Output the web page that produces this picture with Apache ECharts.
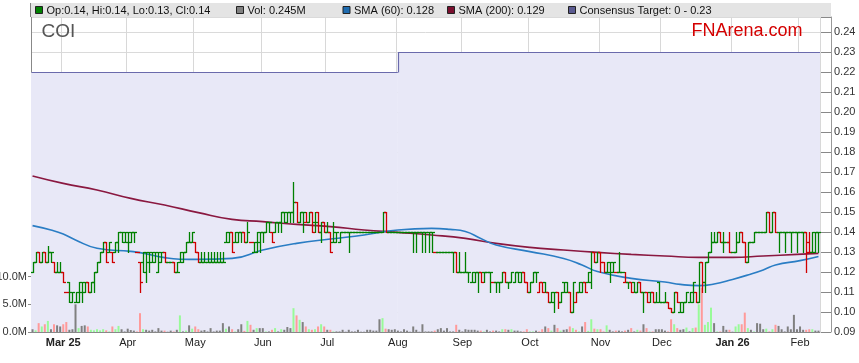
<!DOCTYPE html>
<html><head><meta charset="utf-8">
<script src="https://cdn.jsdelivr.net/npm/echarts@6/dist/echarts.min.js"></script>
<style>html,body{margin:0;padding:0;background:#fff}#c{width:859px;height:363px}</style>
</head><body><div id="c"></div>
<script>
// ---------- data ----------
const startDate = '2025-02-17';   // first weekday shown
const dayCount = 257;              // weekdays on the axis (to 2026-02-10)
const monthNames = ['Jan','Feb','Mar','Apr','May','Jun','Jul','Aug','Sep','Oct','Nov','Dec'];

// [open, high, low, close] per weekday
const priceBars = [
[.120,.125,.120,.125],[.125,.130,.125,.130],[.130,.130,.125,.125],[.125,.130,.125,.130],[.130,.130,.125,.125],
[.125,.133,.125,.130],[.130,.130,.125,.130],[.125,.125,.120,.120],[.120,.125,.120,.120],[.120,.125,.120,.120],
[.120,.120,.115,.115],[.110,.110,.110,.110],[.115,.115,.105,.110],[.105,.110,.105,.110],[.105,.110,.105,.110],
[.105,.115,.105,.115],[.110,.115,.105,.115],[.110,.115,.110,.115],[.115,.115,.110,.110],[.110,.115,.110,.115],
[.115,.120,.110,.120],[.120,.125,.120,.125],[.125,.130,.125,.130],[.130,.135,.130,.135],[.135,.135,.125,.125],
[.130,.135,.130,.135],[.130,.130,.125,.125],[.130,.135,.130,.135],[.135,.140,.130,.140],[.140,.140,.135,.140],
[.135,.140,.135,.140],[.135,.140,.130,.140],[.135,.140,.135,.140],[.140,.140,.135,.140],[.130,.130,.130,.130],
[.125,.125,.110,.115],[.125,.130,.120,.130],[.120,.130,.115,.130],[.125,.130,.120,.130],[.125,.130,.125,.130],
[.125,.130,.125,.130],[.120,.130,.120,.130],[.125,.130,.125,.130],[.130,.130,.125,.125],[.125,.125,.125,.125],
[.125,.125,.125,.125],[.125,.125,.120,.120],[.120,.125,.120,.120],[.125,.130,.125,.130],[.125,.130,.125,.130],
[.130,.135,.130,.135],[.135,.140,.135,.135],[.135,.140,.135,.140],[.135,.135,.130,.130],[.130,.130,.125,.125],
[.125,.130,.125,.125],[.125,.130,.125,.125],[.125,.130,.125,.125],[.125,.130,.125,.125],[.125,.130,.125,.125],
[.125,.130,.125,.125],[.125,.130,.125,.125],[.125,.130,.125,.125],[.135,.140,.135,.140],[.135,.140,.135,.140],
// 65
[.140,.140,.130,.130],[.135,.140,.135,.140],[.135,.140,.135,.140],[.140,.140,.135,.140],[.140,.140,.135,.135],
[.135,.145,.135,.140],[.135,.135,.135,.135],[.130,.135,.130,.135],[.130,.140,.130,.140],[.135,.140,.130,.140],
[.140,.140,.135,.140],[.140,.145,.140,.145],[.145,.145,.140,.145],[.140,.140,.135,.135],[.140,.145,.140,.145],
[.145,.145,.140,.145],[.145,.150,.140,.150],[.150,.150,.145,.150],[.145,.150,.145,.150],[.150,.150,.145,.150],
[.150,.165,.145,.155],[.155,.155,.145,.145],[.145,.150,.145,.150],[.150,.150,.140,.150],[.145,.150,.145,.145],
[.145,.150,.145,.150],[.150,.150,.140,.140],[.145,.150,.140,.145],[.150,.150,.140,.140],[.140,.145,.135,.145],
[.145,.145,.140,.140],[.140,.145,.140,.140],[.140,.140,.130,.130],[.135,.145,.135,.140],[.135,.140,.135,.140],
[.135,.140,.135,.140],[.140,.140,.140,.140],[.140,.140,.140,.140],[.140,.140,.130,.140],[.140,.140,.140,.140],
[.140,.140,.140,.140],[.140,.140,.140,.140],[.140,.140,.140,.140],[.140,.140,.140,.140],[.140,.140,.140,.140],
[.140,.140,.140,.140],[.140,.140,.140,.140],[.140,.140,.140,.140],[.140,.140,.140,.140],[.140,.150,.140,.150],
[.150,.150,.140,.140],[.140,.140,.140,.140],[.140,.140,.140,.140],[.140,.140,.140,.140],[.140,.140,.140,.140],
[.140,.140,.140,.140],[.140,.140,.140,.140],[.140,.140,.140,.140],[.140,.140,.140,.140],[.140,.140,.130,.140],
[.140,.140,.130,.140],[.140,.140,.140,.140],[.140,.140,.130,.140],[.140,.140,.130,.140],[.140,.140,.130,.140],
// 130
[.140,.140,.130,.140],[.130,.130,.130,.130],[.130,.130,.130,.130],[.130,.130,.130,.130],[.130,.130,.130,.130],
[.130,.130,.130,.130],[.130,.130,.130,.130],[.130,.130,.120,.130],[.130,.130,.120,.120],[.120,.130,.120,.120],
[.120,.120,.120,.120],[.120,.130,.120,.120],[.120,.120,.115,.120],[.115,.120,.115,.120],[.115,.120,.115,.120],
[.120,.120,.110,.120],[.120,.120,.115,.115],[.120,.120,.115,.120],[.120,.120,.120,.120],[.120,.120,.110,.120],
[.115,.115,.115,.115],[.115,.115,.110,.115],[.115,.115,.110,.115],[.115,.120,.115,.120],[.120,.120,.115,.115],
[.115,.115,.112,.115],[.115,.120,.115,.120],[.115,.120,.115,.120],[.120,.120,.115,.120],[.115,.120,.115,.120],
[.120,.120,.115,.115],[.115,.115,.110,.110],[.110,.115,.110,.115],[.115,.120,.115,.120],[.120,.120,.115,.120],
[.110,.115,.110,.115],[.115,.115,.110,.110],[.115,.115,.110,.110],[.110,.110,.105,.105],[.105,.110,.105,.110],
[.105,.110,.100,.110],[.110,.110,.102,.105],[.105,.110,.105,.110],[.115,.115,.110,.110],[.115,.115,.110,.110],
[.110,.110,.100,.100],[.100,.115,.100,.115],[.105,.110,.105,.110],[.110,.115,.110,.115],[.110,.115,.110,.115],
[.115,.115,.110,.110],[.115,.120,.115,.120],[.115,.130,.112,.130],[.130,.130,.125,.125],[.125,.130,.125,.130],
[.130,.130,.120,.125],[.125,.125,.120,.120],[.120,.125,.120,.125],[.120,.125,.115,.125],[.120,.125,.120,.125],
[.120,.120,.120,.120],[.120,.130,.120,.120],[.120,.120,.120,.120],[.115,.120,.115,.115],[.115,.115,.112,.115],
// 195
[.115,.115,.110,.110],[.115,.115,.110,.110],[.110,.115,.110,.115],[.115,.115,.110,.110],[.110,.110,.100,.110],
[.110,.110,.105,.105],[.110,.110,.105,.110],[.110,.110,.105,.105],[.105,.110,.105,.105],[.115,.115,.105,.105],
[.105,.105,.105,.105],[.105,.110,.105,.105],[.105,.105,.102,.102],[.102,.102,.100,.100],[.100,.110,.100,.110],
[.110,.110,.105,.105],[.100,.105,.100,.105],[.100,.105,.100,.105],[.105,.110,.105,.110],[.105,.110,.105,.110],
[.105,.115,.105,.115],[.110,.110,.105,.105],[.105,.125,.105,.125],[.125,.125,.110,.115],[.115,.125,.110,.125],
[.125,.130,.125,.130],[.130,.140,.130,.135],[.135,.140,.135,.135],[.135,.140,.135,.140],[.140,.140,.135,.135],
[.135,.140,.130,.135],[.135,.135,.135,.135],[.135,.140,.130,.130],[.130,.130,.130,.130],[.130,.140,.130,.135],
[.135,.140,.135,.140],[.140,.140,.135,.135],[.135,.135,.125,.125],[.125,.135,.125,.135],[.135,.135,.135,.135],
[.135,.140,.135,.140],[.140,.140,.140,.140],[.140,.140,.140,.140],[.140,.140,.140,.140],[.140,.150,.140,.150],
[.150,.150,.140,.140],[.140,.150,.140,.150],[.150,.150,.140,.140],[.140,.140,.130,.140],[.140,.140,.140,.140],
[.140,.140,.130,.140],[.140,.140,.140,.140],[.140,.140,.130,.140],[.140,.140,.140,.140],[.140,.140,.130,.140],
[.140,.140,.140,.140],[.140,.140,.130,.140],[.140,.140,.120,.135],[.130,.140,.130,.130],[.130,.140,.130,.140],
[.130,.140,.130,.140],[.140,.140,.130,.140]
];

// volume, millions of shares
const volumeM = [
.5,.3,1.6,1.0,1.4,2.0,.5,1.4,1.2,1.0, 1.4,1.8,.4,.5,5.0,.7,1.1,1.2,1.0,.4,
.3,.5,.3,.5,.3,.1,1.0,.5,1.1,.5, .1,.6,.35,.25,.1,3.4,.5,.4,.25,.4,
.1,.7,.25,.25,.05,.25,.1,.4,3.0,.1, .25,1.2,.6,1.0,.5,.25,.35,.1,.7,.1,
.25,.25,1.6,.6,1.0,
.5,.1,.5,1.4,.2,2.0,1.3,.4,.7,.7, .7,.1,.1,.4,.7,.1,.5,.4,.9,.7,
4.3,3.0,2.2,1.8,1.0,.5,.4,.5,1.0,1.4, 1.0,.4,.4,.1,.1,.1,.4,.05,.4,.1,
.1,.4,.05,.05,.4,.4,.25,.25,2.3,2.5, .6,.5,.4,.5,.25,.1,.5,.25,.05,1.0,
.4,.05,1.4,.1,.1,
.1,.25,.5,.7,.25,.7,.1,.1,1.3,.4, .1,.5,.4,.4,.4,.25,.25,.1,.4,.1,
.25,.25,.1,.5,.5,.4,.5,.25,.25,.1, .1,.5,.1,.1,.25,.1,.5,1.0,.7,.25,
1.3,.7,.25,.4,.5,1.0,.7,.4,.1,1.0, 1.8,.2,2.3,.6,.5,.5,.1,1.2,.4,.1,
.25,.25,.1,.25,.4,
.7,.1,.4,.25,1.4,.7,.1,.1,.5,.5, .5,.25,.1,2.3,1.4,.7,.4,.5,.8,.1,
.7,.8,5.0,8.0,1.3,1.8,4.4,1.6,.1,.1, 1.1,.4,.4,.05,1.0,1.4,1.4,3.5,.7,.4,
.1,1.6,1.5,.5,.6,.1,.5,1.3,1.1,.5, .1,1.0,.5,3.1,.5,1.0,.4,.4,.5,.5,
.25,.245
];

// moving averages sampled at weekday indices [index, value]
const sma60 = [[0,.1432],[6,.141],[10,.139],[14,.136],[21,.1319],[32,.1303],[35,.1297],[43,.1272],[48,.1264],[54,.1263],
[65,.1268],[75,.131],[86,.1343],[97,.1365],[108,.1385],[119,.141],[130,.1418],[136,.1413],[141,.1402],[146,.1368],
[151,.1335],[162,.1302],[173,.1268],[179,.1235],[184,.1202],[195,.1168],[206,.115],[211,.1138],[217,.1132],[222,.114],
[228,.1163],[233,.1185],[238,.121],[242,.1235],[250,.1257],[256,.1278]];
const sma200 = [[0,.168],[10,.1643],[21,.161],[32,.1568],[43,.1535],[54,.1497],[65,.1463],[75,.1452],[86,.1438],[97,.1427],
[108,.141],[119,.1398],[130,.1385],[141,.1368],[151,.1343],[162,.1323],[173,.131],[184,.1298],[195,.1288],[206,.128],
[217,.1273],[228,.1273],[238,.128],[249,.1288],[256,.1293]];

// consensus target: [first index, last index, value]
const targetLow = 0;
const targetSteps = [[0,118,0.22],[119,256,0.23]];

const priceMin = 0.09, priceMax = 0.2475, priceStep = 0.01;
const volMaxM = 56.9;
const volLabelValues = [0,5,10];

// ---------- build ----------
if (priceBars.length !== dayCount || volumeM.length !== dayCount) {
  throw new Error('length mismatch ' + priceBars.length + ' ' + volumeM.length);
}
function weekdays(start, n) {
  const out = []; const d = new Date(start + 'T00:00:00Z');
  while (out.length < n) { const w = d.getUTCDay(); if (w !== 0 && w !== 6) out.push(d.toISOString().slice(0,10)); d.setUTCDate(d.getUTCDate()+1); }
  return out;
}
const dates = weekdays(startDate, dayCount);
const isMonthStart = (i) => i > 0 && dates[i].slice(5,7) !== dates[i-1].slice(5,7);
let firstMonthIdx = -1; for (let i = 0; i < dates.length; i++) if (isMonthStart(i)) { firstMonthIdx = i; break; }

const GREEN = '#008000', RED = '#d00000';
const VOL_UP = '#98fb98', VOL_DN = '#ff9a9a', VOL_EQ = '#808080';
const LAV = '#e8e8f7', TGT = '#6a6aac';
const FONT = "'Liberation Sans', Arial, sans-serif";

const ohlcData = priceBars.map((b, i) => [i, b[0], b[1], b[2], b[3], i ? priceBars[i-1][3] : b[3]]);
const volData = volumeM.map((v, i) => {
  const c = priceBars[i][3], p = i ? priceBars[i-1][3] : c;
  const col = c > p + 1e-9 ? VOL_UP : (c < p - 1e-9 ? VOL_DN : VOL_EQ);
  return { value: v, itemStyle: { color: col } };
});
const tgtData = targetSteps.map((s, k) => [s[0], s[1], s[2], k ? targetSteps[k-1][2] : s[2]]);

const last = priceBars[dayCount-1];
const legendItems = [
  { x: 35, color: GREEN, text: 'Op:' + last[0].toFixed(2) + ', Hi:' + last[1].toFixed(2) + ', Lo:' + last[2].toFixed(2) + ', Cl:' + last[3].toFixed(2) },
  { x: 236, color: '#808080', text: 'Vol: ' + volumeM[dayCount-1].toFixed(3) + 'M' },
  { x: 342.5, color: '#1f6cb0', text: 'SMA (60): ' + sma60[sma60.length-1][1].toFixed(3) },
  { x: 447, color: '#7a0f2e', text: 'SMA (200): ' + sma200[sma200.length-1][1].toFixed(3) },
  { x: 568, color: '#5a5a90', text: 'Consensus Target: ' + targetLow + ' - ' + targetSteps[targetSteps.length-1][2].toFixed(2) }
];
const graphics = [
  { type: 'rect', z: 50, shape: { x: 31, y: 3, width: 800, height: 14 }, style: { fill: '#e4e4e4' }, silent: true },
  { type: 'line', z: 50, shape: { x1: 30.5, y1: 3, x2: 30.5, y2: 17 }, style: { stroke: '#808080', lineWidth: 1 }, silent: true },
  { type: 'text', z: 50, x: 41.5, y: 32, style: { text: 'COI', font: '19px ' + FONT, fill: '#555', verticalAlign: 'middle' }, silent: true },
  { type: 'text', z: 50, x: 691.5, y: 31.5, style: { text: 'FNArena.com', font: '18px ' + FONT, fill: '#d40000', verticalAlign: 'middle' }, silent: true }
];
legendItems.forEach(it => {
  graphics.push({ type: 'rect', z: 51, shape: { x: it.x + 0.5, y: 6.5, width: 7, height: 7 }, style: { fill: it.color, stroke: '#222', lineWidth: 1 }, silent: true });
  graphics.push({ type: 'text', z: 51, x: it.x + 11.5, y: 10.5, style: { text: it.text, font: '11px ' + FONT, fill: '#111', verticalAlign: 'middle' }, silent: true });
});

const chart = echarts.init(document.getElementById('c'), null, { renderer: 'canvas' });
chart.setOption({
  animation: false,
  backgroundColor: '#ffffff',
  grid: { left: 31, right: 39, top: 17, bottom: 31, containLabel: false, outerBoundsMode: 'none' },
  graphic: graphics,
  xAxis: {
    type: 'category', data: dates, boundaryGap: true,
    axisLine: { lineStyle: { color: '#888', width: 1 } },
    axisTick: { interval: (i) => isMonthStart(i), length: 3, alignWithLabel: true, lineStyle: { color: '#888' } },
    splitLine: { show: true, interval: (i) => isMonthStart(i), lineStyle: { color: '#d8d8d8', width: 1 } },
    axisLabel: {
      interval: (i) => isMonthStart(i), margin: 5, fontSize: 11, color: '#222', fontFamily: FONT,
      formatter: (v, i) => {
        const m = +v.slice(5,7), y = v.slice(2,4);
        const name = monthNames[m-1];
        if (m === 1 || i === firstMonthIdx) return '{b|' + name + ' ' + y + '}';
        return name;
      },
      rich: { b: { fontWeight: 'bold', fontSize: 11, color: '#222', fontFamily: FONT } }
    }
  },
  yAxis: [
    {
      type: 'value', position: 'right', offset: 11, min: priceMin, max: priceMax, interval: priceStep,
      axisLine: { show: true, lineStyle: { color: '#999' } },
      axisTick: { show: true, inside: true, length: 10, lineStyle: { color: '#888' } },
      axisLabel: { margin: 3, fontSize: 11, color: '#333', fontFamily: FONT,
        formatter: (v) => Math.abs(v*100 - Math.round(v*100)) < 1e-6 ? v.toFixed(2) : '' },
      splitLine: { show: true, lineStyle: { color: '#dadada', width: 1 } }
    },
    {
      type: 'value', position: 'left', min: 0, max: volMaxM, interval: 5,
      axisLine: { show: true, lineStyle: { color: '#888' } },
      axisTick: { show: true, length: 3, customValues: volLabelValues, lineStyle: { color: '#888' } },
      axisLabel: { margin: 4, fontSize: 11, color: '#333', fontFamily: FONT, customValues: volLabelValues,
        formatter: (v) => v <= 10.01 ? v.toFixed(1) + 'M' : '' },
      splitLine: { show: false }
    }
  ],
  series: [
    {
      type: 'custom', name: 'Consensus Target', xAxisIndex: 0, yAxisIndex: 0, z: 1, silent: true,
      data: tgtData, encode: { x: [0, 1], y: 2 },
      renderItem: (params, api) => {
        const cs = params.coordSys;
        const s = api.value(0), e = api.value(1), v = api.value(2), pv = api.value(3);
        const x0 = s === 0 ? cs.x : api.coord([s, v])[0];
        const x1 = e === dayCount - 1 ? cs.x + cs.width : api.coord([e + 1, v])[0];
        const y = Math.round(api.coord([s, v])[1]) + 0.5, py = Math.round(api.coord([s, pv])[1]) + 0.5;
        const bottom = cs.y + cs.height;
        const xs = Math.round(x0) + 0.5;
        return { type: 'group', children: [
          { type: 'rect', shape: { x: x0, y: y, width: x1 - x0, height: bottom - y }, style: { fill: LAV } },
          { type: 'polyline', shape: { points: [[xs, py], [xs, y], [x1, y]] }, style: { stroke: TGT, lineWidth: 1.2, fill: null } }
        ] };
      }
    },
    {
      type: 'bar', name: 'Vol', xAxisIndex: 0, yAxisIndex: 1, z: 2, barWidth: 2, silent: true,
      data: volData
    },
    {
      type: 'line', name: 'SMA (200)', xAxisIndex: 0, yAxisIndex: 0, z: 3, data: sma200, smooth: true,
      showSymbol: false, silent: true, lineStyle: { color: '#8a1840', width: 1.6 }
    },
    {
      type: 'line', name: 'SMA (60)', xAxisIndex: 0, yAxisIndex: 0, z: 3, data: sma60, smooth: true,
      showSymbol: false, silent: true, lineStyle: { color: '#2a7dc4', width: 1.6 }
    },
    {
      type: 'custom', name: 'OHLC', xAxisIndex: 0, yAxisIndex: 0, z: 4, silent: true,
      data: ohlcData, encode: { x: 0, y: [1, 2, 3, 4] },
      renderItem: (params, api) => {
        const i = api.value(0);
        const pH = api.coord([i, api.value(2)]), pL = api.coord([i, api.value(3)]);
        const yO = Math.round(api.coord([i, api.value(1)])[1]) + 0.5;
        const yC = Math.round(api.coord([i, api.value(4)])[1]) + 0.5;
        const x = Math.round(pH[0]) + 0.5;
        const color = api.value(4) < api.value(5) - 1e-9 ? RED : GREEN;
        const st = { stroke: color, lineWidth: 1.3, fill: null };
        return { type: 'group', children: [
          { type: 'line', shape: { x1: x, y1: Math.round(pH[1]), x2: x, y2: Math.round(pL[1]) + 1 }, style: st },
          { type: 'line', shape: { x1: x - 2.5, y1: yO, x2: x, y2: yO }, style: st },
          { type: 'line', shape: { x1: x, y1: yC, x2: x + 2.5, y2: yC }, style: st }
        ] };
      }
    }
  ]
});
</script>
</body></html>
